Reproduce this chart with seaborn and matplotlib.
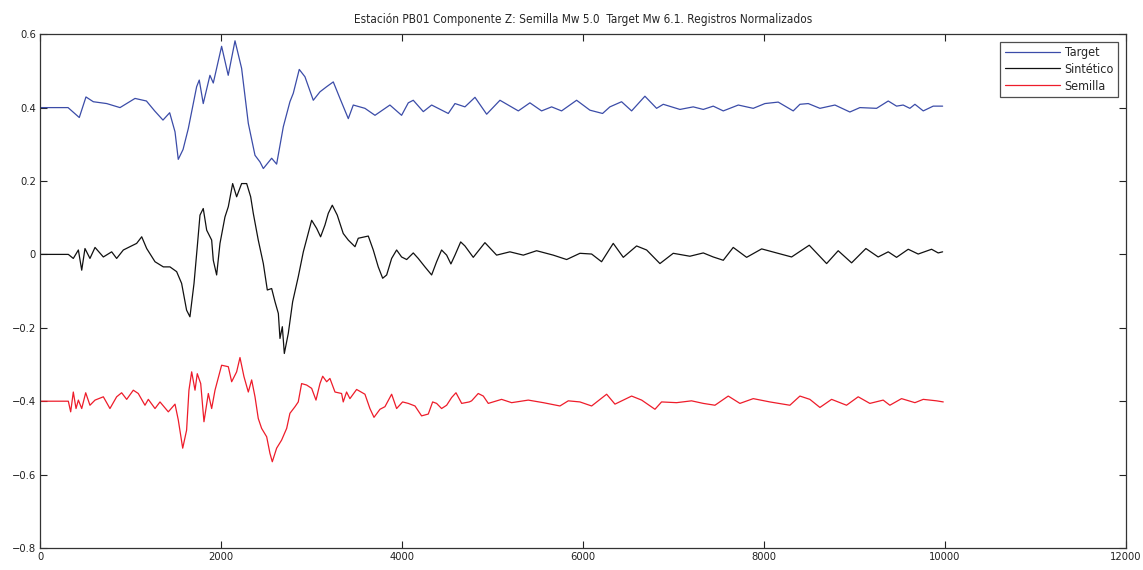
import matplotlib
matplotlib.use("Agg")
import matplotlib.pyplot as plt
import seaborn as sns
import pandas as pd

# Normalised records, shifted vertically for display (Target +0.4, Sintetico 0, Semilla -0.4)
target_t = [0, 310, 434, 508, 589, 737, 884, 1050, 1176, 1267, 1359, 1433, 1492, 1528, 1581, 1639,
            1731, 1760, 1804, 1878, 1915, 2007, 2080, 2155, 2228, 2302, 2376, 2431, 2468, 2560,
            2615, 2689, 2762, 2799, 2865, 2928, 3020, 3094, 3168, 3241, 3315, 3407, 3462, 3591,
            3702, 3867, 3996, 4070, 4125, 4236, 4328, 4512, 4586, 4696, 4807, 4936, 5083, 5286,
            5414, 5543, 5654, 5764, 5930, 6077, 6217, 6298, 6427, 6538, 6685, 6814, 6888, 7072,
            7219, 7330, 7440, 7551, 7717, 7882, 8011, 8158, 8324, 8398, 8490, 8619, 8785, 8950,
            9061, 9245, 9374, 9466, 9539, 9613, 9669, 9761, 9871, 9975]
target_v = [0.400, 0.400, 0.373, 0.429, 0.416, 0.411, 0.400, 0.425, 0.418, 0.391, 0.366, 0.386,
            0.334, 0.259, 0.286, 0.343, 0.457, 0.475, 0.411, 0.488, 0.467, 0.567, 0.488, 0.582,
            0.507, 0.357, 0.270, 0.252, 0.234, 0.262, 0.246, 0.348, 0.416, 0.439, 0.504, 0.484,
            0.420, 0.443, 0.457, 0.470, 0.425, 0.370, 0.407, 0.398, 0.379, 0.407, 0.379, 0.413,
            0.420, 0.389, 0.407, 0.384, 0.411, 0.402, 0.428, 0.382, 0.420, 0.391, 0.413, 0.391,
            0.402, 0.391, 0.420, 0.393, 0.384, 0.402, 0.416, 0.391, 0.431, 0.398, 0.409, 0.395,
            0.402, 0.395, 0.404, 0.391, 0.407, 0.398, 0.411, 0.415, 0.391, 0.409, 0.411, 0.398,
            0.407, 0.388, 0.400, 0.398, 0.418, 0.404, 0.407, 0.398, 0.409, 0.391, 0.404, 0.404]

sint_t = [0, 313, 368, 424, 461, 497, 552, 608, 700, 792, 847, 921, 994, 1068, 1124, 1179, 1271,
          1363, 1436, 1510, 1565, 1620, 1657, 1702, 1738, 1768, 1804, 1842, 1897, 1915, 1952,
          1989, 2044, 2081, 2129, 2173, 2228, 2284, 2328, 2357, 2412, 2468, 2512, 2560, 2597,
          2634, 2652, 2678, 2700, 2744, 2792, 2854, 2910, 2954, 3002, 3057, 3101, 3149, 3186,
          3230, 3285, 3351, 3407, 3481, 3517, 3628, 3683, 3738, 3787, 3831, 3886, 3941, 3996,
          4052, 4125, 4180, 4254, 4328, 4383, 4438, 4494, 4541, 4586, 4649, 4696, 4788, 4917,
          5046, 5193, 5341, 5488, 5672, 5820, 5967, 6096, 6206, 6335, 6446, 6593, 6704, 6851,
          6998, 7182, 7330, 7440, 7551, 7661, 7809, 7975, 8140, 8306, 8501, 8693, 8821, 8969,
          9127, 9263, 9374, 9466, 9595, 9705, 9853, 9926, 9975]
sint_v = [0.000, 0.000, -0.011, 0.012, -0.043, 0.016, -0.011, 0.019, -0.007, 0.007, -0.011,
          0.012, 0.021, 0.030, 0.048, 0.016, -0.020, -0.034, -0.034, -0.047, -0.079, -0.152,
          -0.170, -0.079, 0.021, 0.107, 0.125, 0.066, 0.039, -0.016, -0.056, 0.030, 0.102,
          0.130, 0.193, 0.157, 0.193, 0.193, 0.157, 0.112, 0.039, -0.025, -0.097, -0.093,
          -0.129, -0.161, -0.229, -0.197, -0.270, -0.215, -0.129, -0.061, 0.007, 0.048, 0.093,
          0.071, 0.048, 0.080, 0.112, 0.134, 0.107, 0.057, 0.039, 0.021, 0.044, 0.050, 0.012,
          -0.034, -0.065, -0.056, -0.011, 0.012, -0.007, -0.014, 0.004, -0.011, -0.034, -0.056,
          -0.020, 0.012, -0.002, -0.026, -0.002, 0.034, 0.023, -0.008, 0.032, -0.002, 0.007,
          -0.002, 0.010, -0.002, -0.014, 0.003, 0.001, -0.020, 0.030, -0.008, 0.023, 0.012,
          -0.025, 0.003, -0.005, 0.004, -0.007, -0.016, 0.019, -0.008, 0.015, 0.004, -0.007,
          0.025, -0.025, 0.010, -0.023, 0.016, -0.007, 0.007, -0.008, 0.014, 0.001, 0.014,
          0.004, 0.007]

sem_t = [0, 313, 339, 368, 398, 424, 461, 505, 552, 608, 700, 773, 847, 902, 958, 1031, 1086,
         1160, 1197, 1271, 1326, 1418, 1492, 1528, 1577, 1620, 1646, 1676, 1713, 1738, 1776,
         1812, 1860, 1897, 1934, 2007, 2081, 2118, 2173, 2210, 2254, 2302, 2339, 2376, 2412,
         2449, 2505, 2541, 2567, 2615, 2670, 2726, 2762, 2818, 2854, 2891, 2947, 3002, 3050,
         3094, 3124, 3168, 3204, 3260, 3333, 3351, 3388, 3425, 3499, 3591, 3646, 3691, 3757,
         3812, 3886, 3941, 4007, 4070, 4144, 4217, 4291, 4339, 4383, 4438, 4494, 4549, 4597,
         4660, 4744, 4770, 4843, 4899, 4954, 5101, 5212, 5396, 5562, 5746, 5838, 5967, 6096,
         6262, 6354, 6538, 6649, 6796, 6869, 7035, 7200, 7330, 7459, 7606, 7735, 7882, 8066,
         8287, 8398, 8508, 8619, 8748, 8913, 9042, 9171, 9318, 9392, 9521, 9669, 9761, 9908,
         9982]
sem_v = [-0.400, -0.400, -0.429, -0.375, -0.420, -0.397, -0.420, -0.377, -0.411, -0.397, -0.388,
         -0.420, -0.388, -0.377, -0.395, -0.370, -0.379, -0.411, -0.395, -0.420, -0.402, -0.429,
         -0.408, -0.451, -0.528, -0.479, -0.370, -0.320, -0.370, -0.325, -0.352, -0.456, -0.379,
         -0.420, -0.370, -0.302, -0.306, -0.347, -0.320, -0.281, -0.333, -0.375, -0.342, -0.388,
         -0.447, -0.474, -0.497, -0.542, -0.565, -0.528, -0.506, -0.474, -0.433, -0.415, -0.402,
         -0.352, -0.356, -0.365, -0.397, -0.352, -0.332, -0.347, -0.338, -0.375, -0.379, -0.402,
         -0.375, -0.393, -0.368, -0.381, -0.420, -0.444, -0.422, -0.415, -0.381, -0.420, -0.402,
         -0.406, -0.413, -0.440, -0.435, -0.402, -0.406, -0.420, -0.411, -0.390, -0.377, -0.406,
         -0.402, -0.399, -0.379, -0.386, -0.406, -0.395, -0.404, -0.397, -0.404, -0.413, -0.399,
         -0.402, -0.413, -0.381, -0.408, -0.386, -0.397, -0.422, -0.402, -0.404, -0.399, -0.406,
         -0.411, -0.386, -0.406, -0.393, -0.402, -0.411, -0.386, -0.395, -0.417, -0.395, -0.411,
         -0.388, -0.406, -0.397, -0.411, -0.393, -0.404, -0.395, -0.399, -0.402]

series_names = ["Target", "Sintético", "Semilla"]
series_colors = ["#3b4ca8", "#111111", "#ee1c2a"]

title = "Estación PB01 Componente Z: Semilla Mw 5.0  Target Mw 6.1. Registros Normalizados"
xticks = [0, 2000, 4000, 6000, 8000, 10000, 12000]
yticks = [-0.8, -0.6, -0.4, -0.2, 0, 0.2, 0.4, 0.6]

sns.set_theme(style="white")
plt.rcParams["font.family"] = ["DejaVu Sans"]
plt.rcParams["font.stretch"] = "condensed"

fig = plt.figure(figsize=(11.43, 5.70), dpi=100)
ax = fig.add_axes([0.035, 0.0386, 0.950, 0.9014])

for name, t, v, c in zip(series_names, [target_t, sint_t, sem_t], [target_v, sint_v, sem_v],
                         series_colors):
    df = pd.DataFrame({"t": t, "v": v})
    sns.lineplot(data=df, x="t", y="v", ax=ax, color=c, linewidth=0.9, label=name,
                 sort=False, estimator=None)

ax.set_xlim(0, 12000)
ax.set_ylim(-0.8, 0.6)
ax.set_xticks(xticks)
ax.set_xticklabels([str(x) for x in xticks])
ax.set_yticks(yticks)
ax.set_yticklabels(["\u22120.8", "\u22120.6", "\u22120.4", "\u22120.2", "0", "0.2", "0.4", "0.6"])
ax.set_xlabel("")
ax.set_ylabel("")
ax.tick_params(axis="both", direction="in", length=5, width=0.8, labelsize=8,
               top=True, right=True, bottom=True, left=True, pad=3, colors="#222222")
for s in ax.spines.values():
    s.set_visible(True)
    s.set_color("#333333")
    s.set_linewidth(0.9)
ax.set_title(title, fontsize=8.5, pad=8)

leg = ax.legend(loc="upper right", frameon=True, fontsize=9, handlelength=4.4,
                borderaxespad=0.6, labelspacing=0.3, handletextpad=0.4, fancybox=False,
                borderpad=0.35)
leg.get_frame().set_edgecolor("#222222")
leg.get_frame().set_linewidth(0.9)

fig.savefig("out.png", dpi=100)
